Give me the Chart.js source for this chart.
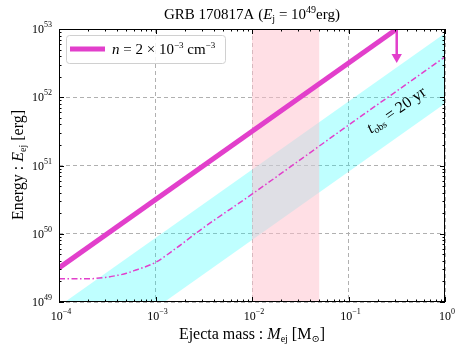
<!DOCTYPE html>
<html>
<head>
<meta charset="utf-8">
<script src="https://cdn.jsdelivr.net/npm/chart.js@4/dist/chart.umd.min.js"></script>
<style>
  html, body { margin: 0; padding: 0; background: #fff; }
  #wrap { width: 464px; height: 354px; }
</style>
</head>
<body>
<div id="wrap"><canvas id="graph" width="464" height="354"></canvas></div>
<script>
// axis ticks (decades)
var massTicks = [1e-4, 1e-3, 1e-2, 1e-1, 1];
var energyTicks = [1e49, 1e50, 1e51, 1e52, 1e53];

// thick line: n = 2e-3 cm^-3
var lineMass = [1e-4, 0.316];
var lineEnergy = [3.16e49, 1e53];

// downward arrow (upper limit)
var arrowMass = [0.316, 0.316];
var arrowEnergy = [1e53, 3.9e52];

// cyan band
var bandMass = [1e-4, 1];
var bandUpper = [8.7e48, 8.7e52];
var bandLower = [8.1e47, 8.1e51];

// dash-dot curve, t_obs = 20 yr
var curveMass = [1e-4, 2e-4, 3e-4, 4e-4, 5e-4, 6e-4, 8e-4, 1e-3, 1.6e-3, 3e-3, 1e-2, 1e-1, 1];
var curveEnergy = [2.19e49, 2.19e49, 2.29e49, 2.45e49, 2.63e49, 2.88e49, 3.31e49, 3.8e49, 6.0e49, 1.17e50, 3.8e50, 3.9e51, 3.9e52];

// pink mass range
var pinkRange = [0.01, 0.05];

var MAG = '#e23fcb';
var SERIF = '"Liberation Serif", "DejaVu Serif", serif';

function pts(xs, ys) {
    return xs.map(function(x, i) { return { x: x, y: ys[i] }; });
}

// draws a list of text pieces [text, size, italic, dy] one after another
function richText(ctx, pieces, x, y, align, angle) {
    ctx.save();
    ctx.translate(x, y);
    if (angle) ctx.rotate(angle);
    var total = 0;
    pieces.forEach(function(p) {
        ctx.font = (p[2] ? 'italic ' : '') + p[1] + 'px ' + SERIF;
        total += ctx.measureText(p[0]).width;
    });
    var cx = align == 'center' ? -total / 2 : (align == 'right' ? -total : 0);
    ctx.fillStyle = '#000';
    ctx.textBaseline = 'alphabetic';
    ctx.textAlign = 'left';
    pieces.forEach(function(p) {
        ctx.font = (p[2] ? 'italic ' : '') + p[1] + 'px ' + SERIF;
        ctx.fillText(p[0], cx, p[3] || 0);
        cx += ctx.measureText(p[0]).width;
    });
    ctx.restore();
}

var decorPlugin = {
    id: 'decor',
    afterDraw: function(chart) {
        var ctx = chart.ctx;
        var a = chart.chartArea;
        var xs = chart.scales.x, ys = chart.scales.y;

        // frame
        ctx.save();
        ctx.strokeStyle = '#000';
        ctx.lineWidth = 1;
        ctx.strokeRect(a.left + 0.5, a.top + 0.5, a.right - a.left - 1, a.bottom - a.top - 1);

        // inward ticks, major and minor, all four sides
        ctx.beginPath();
        massTicks.forEach(function(t, i) {
            for (var k = 1; k < 10; k++) {
                var v = t * k;
                if (v > 1.0001) break;
                var px = Math.round(xs.getPixelForValue(v)) + 0.5;
                var len = k == 1 ? 5 : 2.5;
                ctx.moveTo(px, a.bottom); ctx.lineTo(px, a.bottom - len);
                ctx.moveTo(px, a.top); ctx.lineTo(px, a.top + len);
            }
        });
        energyTicks.forEach(function(t) {
            for (var k = 1; k < 10; k++) {
                var v = t * k;
                if (v > 1.0001e53) break;
                var py = Math.round(ys.getPixelForValue(v)) + 0.5;
                var len = k == 1 ? 5 : 2.5;
                ctx.moveTo(a.left, py); ctx.lineTo(a.left + len, py);
                ctx.moveTo(a.right, py); ctx.lineTo(a.right - len, py);
            }
        });
        ctx.stroke();
        ctx.restore();

        // tick labels
        massTicks.forEach(function(t) {
            var e = Math.round(Math.log10(t));
            var px = xs.getPixelForValue(t);
            richText(ctx, [['10', 12], [e == 0 ? '0' : '\u2212' + (-e), 8, false, -6]], px + 2, 320, 'center');
        });
        energyTicks.forEach(function(t) {
            var e = Math.round(Math.log10(t));
            var py = ys.getPixelForValue(t);
            richText(ctx, [['10', 12], ['' + e, 8, false, -6]], 52, py + 4, 'right');
        });

        // title and axis labels
        richText(ctx, [['GRB 170817A (', 15], ['E', 15, true], ['j', 10, false, 3], [' = 10', 15], ['49', 10, false, -6], ['erg)', 15]], 252, 19, 'center');
        richText(ctx, [['Ejecta mass : ', 16], ['M', 16, true], ['ej', 10, false, 3], [' [M', 16], ['\u2299', 10, false, 3], [']', 16]], 252, 339, 'center');
        richText(ctx, [['Energy : ', 16], ['E', 16, true], ['ej', 10, false, 3], [' [erg]', 16]], 23, 165, 'center', -Math.PI / 2);

        // rotated curve label
        richText(ctx, [['t', 16, true], ['obs', 10, false, 3], [' = 20 yr', 16]], 399, 114, 'center', -Math.atan(68 / 96.75));

        // legend
        ctx.save();
        ctx.fillStyle = 'rgba(255,255,255,0.85)';
        ctx.strokeStyle = '#d0d0d0';
        ctx.lineWidth = 1;
        ctx.beginPath();
        ctx.roundRect(66.5, 35.5, 159, 28, 3);
        ctx.fill();
        ctx.stroke();
        ctx.strokeStyle = MAG;
        ctx.lineWidth = 5;
        ctx.beginPath();
        ctx.moveTo(70, 49); ctx.lineTo(105, 49);
        ctx.stroke();
        ctx.restore();
        richText(ctx, [['n', 15, true], [' = 2 \u00d7 10', 15], ['\u22123', 9, false, -6], [' cm', 15], ['\u22123', 9, false, -6]], 112, 54, 'left');
    }
};

var ctx = document.getElementById('graph').getContext('2d');
var chart = new Chart(ctx, {
    type: 'line',
    data: {
        datasets: [
            {
                // thick line
                data: pts(lineMass, lineEnergy),
                borderColor: MAG,
                borderWidth: 5,
                pointRadius: 0,
                fill: false
            },
            {
                // arrow
                data: pts(arrowMass, arrowEnergy),
                borderColor: MAG,
                backgroundColor: MAG,
                borderWidth: 2.5,
                pointRadius: [0, 6],
                pointStyle: 'triangle',
                rotation: 180,
                pointBorderWidth: 0,
                fill: false
            },
            {
                // dash-dot curve
                data: pts(curveMass, curveEnergy),
                borderColor: MAG,
                borderWidth: 1.5,
                borderDash: [6, 2.5, 1.5, 2.5],
                pointRadius: 0,
                cubicInterpolationMode: 'monotone',
                fill: false
            },
            {
                // pink range
                data: pts(pinkRange, [1e53, 1e53]),
                borderWidth: 0,
                pointRadius: 0,
                backgroundColor: 'rgba(255,192,203,0.5)',
                fill: 'start'
            },
            {
                // band upper edge
                data: pts(bandMass, bandUpper),
                borderWidth: 0,
                pointRadius: 0,
                fill: false
            },
            {
                // band lower edge, filled up to the upper edge
                data: pts(bandMass, bandLower),
                borderWidth: 0,
                pointRadius: 0,
                backgroundColor: 'rgba(0,255,255,0.25)',
                fill: '-1'
            }
        ]
    },
    options: {
        responsive: false,
        animation: false,
        layout: { padding: { left: 59, top: 29, right: 19, bottom: 52 } },
        plugins: {
            legend: { display: false },
            title: { display: false },
            tooltip: { enabled: false }
        },
        scales: {
            x: {
                type: 'logarithmic',
                min: 1e-4,
                max: 1,
                afterBuildTicks: function(s) { s.ticks = massTicks.map(function(v) { return { value: v }; }); },
                ticks: { display: false },
                border: { display: false, dash: [4, 3] },
                grid: { color: '#b0b0b0', lineWidth: 1, drawTicks: false }
            },
            y: {
                type: 'logarithmic',
                min: 1e49,
                max: 1e53,
                afterBuildTicks: function(s) { s.ticks = energyTicks.map(function(v) { return { value: v }; }); },
                ticks: { display: false },
                border: { display: false, dash: [4, 3] },
                grid: { color: '#b0b0b0', lineWidth: 1, drawTicks: false }
            }
        }
    },
    plugins: [decorPlugin]
});
</script>
</body>
</html>
